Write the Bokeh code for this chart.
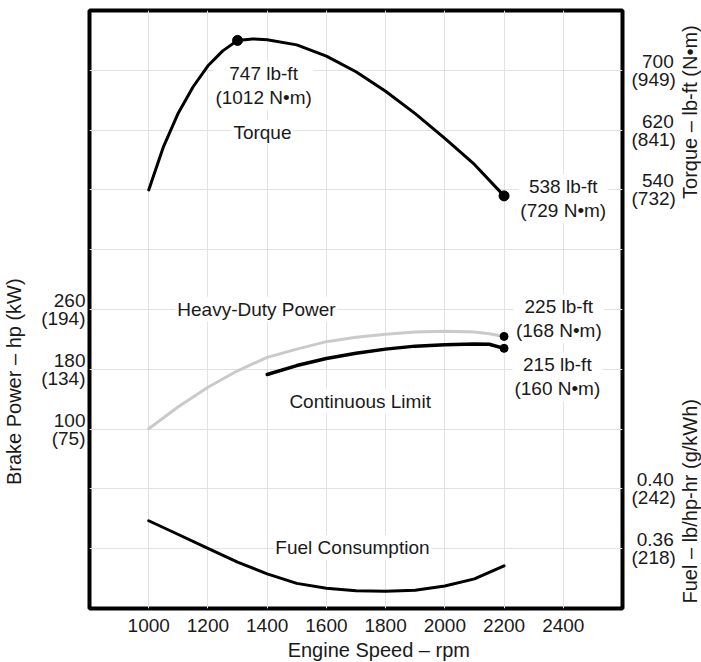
from math import pi
from bokeh.plotting import figure
from bokeh.models import Range1d, LinearAxis, FixedTicker, Grid, Label
from bokeh.embed import file_html
from bokeh.resources import INLINE

# ---------------- data ----------------
rpm_ticks = [1000, 1200, 1400, 1600, 1800, 2000, 2200, 2400]

NB = "\u00a0"
power_ticks = [100, 180, 260]
power_tick_labels = ["100\n(75)", "180\n(134)", "260\n(194)"]
torque_ticks = [540, 620, 700]
torque_tick_labels = [NB * 2 + "540\n(732)", NB * 2 + "620\n(841)", NB * 2 + "700\n(949)"]
fuel_ticks = [0.36, 0.40]
fuel_tick_labels = [NB + "0.36\n(218)", NB + "0.40\n(242)"]

x_title = "Engine Speed – rpm"
power_title = "Brake Power – hp (kW)"
torque_title = "Torque – lb-ft (N•m)"
fuel_title = "Fuel – lb/hp-hr (g/kWh)"

torque_rpm = [1000, 1050, 1100, 1150, 1200, 1250, 1300, 1350, 1400, 1500,
              1600, 1700, 1800, 1900, 2000, 2100, 2200]
torque_lbft = [540, 598, 643, 678, 706, 726, 740, 742, 741, 734,
               719, 698, 672, 642, 609, 574, 532]
torque_marker_rpm = [1300, 2200]
torque_marker_lbft = [740, 532]

hd_power_rpm = [1000, 1100, 1200, 1300, 1400, 1500, 1600, 1700, 1800, 1900,
                2000, 2100, 2150, 2200]
hd_power_hp = [100.5, 130, 156, 178, 196, 207, 217, 223, 227, 230,
               231, 230, 227.5, 224]

cont_power_rpm = [1400, 1500, 1600, 1700, 1800, 1900, 2000, 2100, 2150, 2200]
cont_power_hp = [173, 185, 194.5, 201.5, 207, 211, 213, 214, 213.5, 208]

power_marker_rpm = [2200, 2200]
power_marker_hp = [224, 208]

fuel_rpm = [1000, 1100, 1200, 1300, 1400, 1500, 1600, 1700, 1800, 1900,
            2000, 2100, 2200]
fuel_bsfc = [0.3787, 0.3695, 0.3602, 0.3510, 0.3432, 0.3368, 0.3335, 0.3318,
             0.3315, 0.3322, 0.3350, 0.3398, 0.3485]

# ---------------- ranges ----------------
X_RANGE = (800, 2600)
GRID_RANGE = (0, 10)
POWER_RANGE = (-140, 660)
TORQUE_RANGE = (-20, 780)
FUEL_RANGE = (0.32, 0.72)

FONT = "Liberation Sans"
FS = "19px"
TFS = "20px"
TXT = "#1a1a1a"


def fuel_to_torque(f):
    frac = (f - FUEL_RANGE[0]) / (FUEL_RANGE[1] - FUEL_RANGE[0])
    return round(TORQUE_RANGE[0] + frac * (TORQUE_RANGE[1] - TORQUE_RANGE[0]), 6)


p = figure(width=701, height=662,
           x_range=Range1d(*X_RANGE), y_range=Range1d(*GRID_RANGE),
           y_axis_location=None,
           output_backend="svg", toolbar_location=None,
           min_border_left=88, min_border_right=79,
           min_border_top=10, min_border_bottom=54)
p.extra_y_ranges = {
    "power": Range1d(*POWER_RANGE),
    "torque": Range1d(*TORQUE_RANGE),
    "fuel": Range1d(*FUEL_RANGE),
}
p.background_fill_color = "white"
p.border_fill_color = "white"
p.outline_line_color = "black"
p.outline_line_width = 4

for g in p.ygrid:
    g.visible = False

# grids
p.xgrid.ticker = FixedTicker(ticks=rpm_ticks)
p.xgrid.grid_line_color = "#e2e2e2"
p.xgrid.grid_line_width = 1
hgrid = Grid(dimension=1, ticker=FixedTicker(ticks=[1, 2, 3, 4, 5, 6, 7, 8, 9]),
             grid_line_color="#e2e2e2", grid_line_width=1)
p.add_layout(hgrid)


def style_axis(ax, standoff, size=FS):
    ax.axis_line_color = None
    ax.major_tick_line_color = None
    ax.minor_tick_line_color = None
    ax.major_tick_out = 0
    ax.major_tick_in = 0
    ax.minor_tick_out = 0
    ax.minor_tick_in = 0
    ax.major_label_standoff = standoff
    ax.major_label_text_font = FONT
    ax.major_label_text_font_size = size
    ax.major_label_text_color = TXT
    ax.major_label_text_line_height = 0.85
    ax.axis_label_text_font = FONT
    ax.axis_label_text_font_size = TFS
    ax.axis_label_text_color = TXT
    ax.axis_label_text_font_style = "normal"


# x axis
xa = p.xaxis[0]
xa.ticker = FixedTicker(ticks=rpm_ticks)
style_axis(xa, 10)

# x title (label in the bottom panel)
bottom_title = Label(x=1777, y=-0.70, text=x_title,
                     text_align="center", text_baseline="middle",
                     text_font=FONT, text_font_size=TFS, text_color=TXT)
p.add_layout(bottom_title, "below")

# left (power) axis
left_axis = LinearAxis(y_range_name="power", ticker=FixedTicker(ticks=power_ticks),
                       major_label_overrides=dict(zip(power_ticks, power_tick_labels)))
style_axis(left_axis, 4)
left_axis.axis_label = power_title + NB * 26
left_axis.axis_label_standoff = 13
p.add_layout(left_axis, "left")

# right axis (torque + fuel tick labels)
fuel_pos = [fuel_to_torque(f) for f in fuel_ticks]
right_ticks = fuel_pos + torque_ticks
right_labels = fuel_tick_labels + torque_tick_labels
right_axis = LinearAxis(y_range_name="torque", ticker=FixedTicker(ticks=right_ticks),
                        major_label_overrides=dict(zip(right_ticks, right_labels)))
style_axis(right_axis, 9)
p.add_layout(right_axis, "right")

# right titles (one rotated label in the right panel, fuel below torque)
right_title = Label(x=2829, y=0.084, text=fuel_title + NB * 36 + torque_title,
                    angle=pi / 2, text_align="left", text_baseline="middle",
                    text_font=FONT, text_font_size=TFS, text_color=TXT)
p.add_layout(right_title, "right")

# curves
p.line(hd_power_rpm, hd_power_hp, y_range_name="power",
       line_color="#cacaca", line_width=3, line_cap="round", line_join="round")
p.line(cont_power_rpm, cont_power_hp, y_range_name="power",
       line_color="black", line_width=3.5, line_cap="round", line_join="round")
p.line(torque_rpm, torque_lbft, y_range_name="torque",
       line_color="black", line_width=3, line_cap="round", line_join="round")
p.line(fuel_rpm, fuel_bsfc, y_range_name="fuel",
       line_color="black", line_width=3, line_cap="round", line_join="round")

p.scatter(torque_marker_rpm, torque_marker_lbft, y_range_name="torque",
          size=10, color="black")
p.scatter(power_marker_rpm, power_marker_hp, y_range_name="power",
          size=8, color="black")


def add_text(x, y, text):
    lab = Label(x=x, y=y, text=text, level="underlay",
                text_align="center", text_baseline="middle",
                text_font=FONT, text_font_size=FS, text_color=TXT,
                text_line_height=1.15,
                background_fill_color="white")
    lab.padding = 2
    p.add_layout(lab)


add_text(1388, 8.745, "747 lb-ft\n(1012 N•m)")
add_text(1384, 7.966, "Torque")
add_text(2400, 6.854, "538 lb-ft\n(729 N•m)")
add_text(1364, 5.004, "Heavy-Duty Power")
add_text(2385, 4.845, "225 lb-ft\n(168 N•m)")
add_text(2380, 3.874, "215 lb-ft\n(160 N•m)")
add_text(1714, 3.464, "Continuous Limit")
add_text(1688, 1.021, "Fuel Consumption")

open("out.html", "w").write(file_html(p, INLINE))
